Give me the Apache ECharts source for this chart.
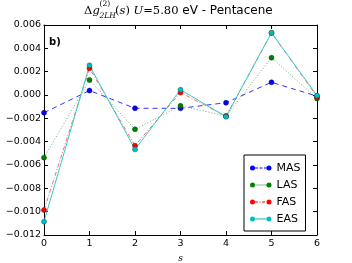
<!DOCTYPE html>
<html><head><meta charset="utf-8">
<script src="https://cdn.jsdelivr.net/npm/echarts@6/dist/echarts.min.js"></script>
<style>html,body{margin:0;padding:0;background:#fff}#c{width:352px;height:263px}</style>
</head><body><div id="c"></div>
<script>
var sValues = [0, 1, 2, 3, 4, 5, 6];
var seriesNames = ['MAS', 'LAS', 'FAS', 'EAS'];
var masValues = [-0.00152, 0.00038, -0.00114, -0.00114, -0.00066, 0.00109, -0.00010];
var lasValues = [-0.00537, 0.00129, -0.00294, -0.00093, -0.00180, 0.00320, -0.00030];
var fasValues = [-0.00986, 0.00229, -0.00434, 0.00021, -0.00182, 0.00532, -0.00015];
var easValues = [-0.01086, 0.00254, -0.00466, 0.00045, -0.00186, 0.00534, -0.00005];
var yTicks = [-0.012, -0.010, -0.008, -0.006, -0.004, -0.002, 0.000, 0.002, 0.004, 0.006];
var xTicks = [0, 1, 2, 3, 4, 5, 6];

function pairs(vals){ return sValues.map(function(s,i){ return [s, vals[i]]; }); }

var circL = 'M0,5 A5,5 0 1,0 10,5 A5,5 0 1,0 0,5 Z ';
var circR = 'M33,5 A5,5 0 1,0 43,5 A5,5 0 1,0 33,5 Z ';
function seg(a,b){ return 'M'+a+',4.2 L'+b+',4.2 L'+b+',5.8 L'+a+',5.8 Z '; }
var iconMAS = 'path://' + circL + circR + seg(10,16) + seg(19,25) + seg(28,33);
var iconLAS = 'path://' + circL + circR + seg(11,13) + seg(15,17) + seg(19,21) + seg(23,25) + seg(27,29) + seg(31,33);
var iconFAS = 'path://' + circL + circR + seg(10,16) + seg(19,21) + seg(24,30);
var iconEAS = 'path://' + circL + circR + seg(10,33);

var chart = echarts.init(document.getElementById('c'));
var axisLine = {show:true, onZero:false, lineStyle:{color:'#000', width:1}};
var fmtY = function(v){ var s = v.toFixed(3); if (s === '-0.000') s = '0.000'; return s.replace('-', '\u2212'); };

function mk(name, vals, color, lineColor, lineType, lineOpacity, border){
  return {
    name: name, type: 'line', data: pairs(vals),
    symbol: 'circle', symbolSize: 5,
    itemStyle: {color: color, borderColor: border, borderWidth: 0.5},
    lineStyle: {color: lineColor, width: 1, type: lineType, opacity: lineOpacity},
    emphasis: {disabled: true}, animation: false
  };
}

var serif = '"DejaVu Serif"';
chart.setOption({
  animation: false,
  graphic: [
    {type:'text', x: 84, y: 5, style:{text:'\u0394', font:'11.5px '+serif, fill:'#000'}},
    {type:'text', x: 92.5, y: 5, style:{text:'g', font:'italic 11.5px '+serif, fill:'#000'}},
    {type:'text', x: 99.5, y: 0, style:{text:'(2)', font:'7.5px '+serif, fill:'#000'}},
    {type:'text', x: 99.5, y: 12, style:{text:'2LH', font:'italic 7.5px '+serif, fill:'#000'}},
    {type:'text', x: 115, y: 5, style:{
      text:'{r|(}{i|s}{r|)}{r| }{i|U}{r|=5.80}{t| eV - Pentacene}',
      rich:{
        r:{font:'11.5px '+serif, fill:'#000'},
        i:{font:'italic 11.5px '+serif, fill:'#000'},
        t:{font:'12px "DejaVu Sans"', fill:'#000'}
      }}},
    {type:'text', left: 49, top: 37, style:{text:'b)', font:'bold 10px "DejaVu Sans"', fill:'#000'}}
  ],
  grid: {left: 44, right: 35, top: 25, bottom: 28, containLabel: false, outerBoundsMode: 'none'},
  legend: {
    orient: 'vertical', left: 244, top: 155,
    data: [{name:'MAS', icon: iconMAS}, {name:'LAS', icon: iconLAS}, {name:'FAS', icon: iconFAS}, {name:'EAS', icon: iconEAS}],
    itemWidth: 21.5, itemHeight: 5, itemGap: 3,
    padding: [6, 5, 5, 6],
    backgroundColor: '#fff', borderColor: '#000', borderWidth: 1,
    itemStyle: {borderWidth: 0},
    textStyle: {fontFamily:'DejaVu Sans', fontSize: 11, color:'#000', lineHeight: 14},
    selectedMode: false
  },
  xAxis: [{
    type:'value', min:0, max:6, interval:1, position:'bottom',
    name:'s', nameLocation:'middle', nameGap: 17,
    nameTextStyle:{fontFamily:'DejaVu Serif', fontStyle:'italic', fontSize:9, color:'#000'},
    axisLine: axisLine, splitLine:{show:false},
    axisTick:{show:true, inside:true, length:4, lineStyle:{color:'#000'}},
    axisLabel:{fontFamily:'DejaVu Sans', fontSize:9.5, color:'#000', margin:4}
  },{
    type:'value', min:0, max:6, interval:1, position:'top',
    axisLine: axisLine, splitLine:{show:false},
    axisTick:{show:true, inside:true, length:4, lineStyle:{color:'#000'}},
    axisLabel:{show:false}
  }],
  yAxis: [{
    type:'value', min:-0.012, max:0.006, interval:0.002, position:'left',
    axisLine: axisLine, splitLine:{show:false},
    axisTick:{show:true, inside:true, length:4, lineStyle:{color:'#000'}},
    axisLabel:{fontFamily:'DejaVu Sans', fontSize:9.5, color:'#000', margin:3, formatter: fmtY}
  },{
    type:'value', min:-0.012, max:0.006, interval:0.002, position:'right',
    axisLine: axisLine, splitLine:{show:false},
    axisTick:{show:true, inside:true, length:4, lineStyle:{color:'#000'}},
    axisLabel:{show:false}
  }],
  series: [
    mk('MAS', masValues, '#0000ff', '#0000ff', [5,4], 0.8, '#00008b'),
    mk('LAS', lasValues, '#008000', '#008000', [1,2], 0.6, '#004000'),
    mk('FAS', fasValues, '#ff0000', '#ff0000', [4,2,1,2], 0.6, '#800000'),
    mk('EAS', easValues, '#00bfbf', '#33cccc', 'solid', 1, '#006060')
  ]
});
</script></body></html>
